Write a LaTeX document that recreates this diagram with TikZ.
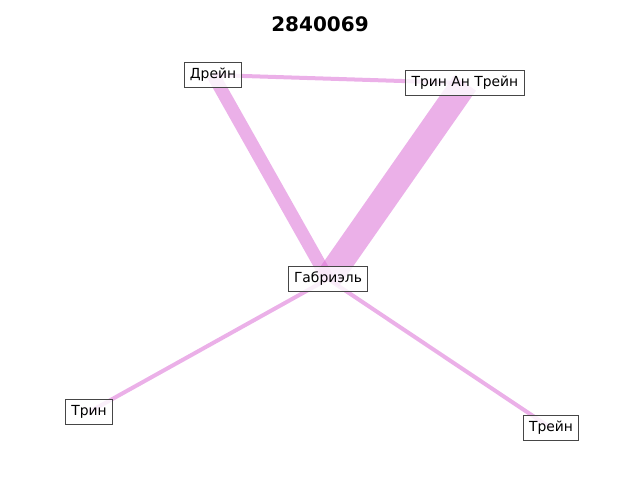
\documentclass[tikz,border=0pt]{standalone}
\usepackage{fontspec}
\setmainfont{DejaVu Sans}
\usetikzlibrary{backgrounds}
\definecolor{edgecol}{RGB}{218,112,214}
\definecolor{boxline}{RGB}{70,70,70}
\tikzset{
  lbl/.style={draw=boxline, line width=0.75pt, fill=white, fill opacity=0.8, text opacity=1,
    inner xsep=4.4pt, inner ysep=4.2pt, text height=7.8pt, text depth=2.0pt,
    font=\fontsize{10.4pt}{12pt}\selectfont},
  edg/.style={draw=edgecol, draw opacity=0.55, line cap=butt},
}
\begin{document}
\begin{tikzpicture}[x=0.75pt,y=-0.75pt]
\useasboundingbox (0,0) rectangle (640,480);
\node[font=\fontsize{15pt}{17pt}\selectfont\bfseries] (title) at (320,24) {2840069};
\node[lbl] (drein) at (213,75) {Дрейн};
\node[lbl] (trinan) at (465,83) {Трин Ан Трейн};
\node[lbl] (gab) at (328,279) {Габриэль};
\node[lbl] (trin) at (89,412) {Трин};
\node[lbl] (trein) at (551,428) {Трейн};
\begin{scope}[on background layer]
\draw[edg, line width=3pt] (drein.center) -- (trinan.center);
\draw[edg, line width=9.75pt] (drein.center) -- (gab.center);
\draw[edg, line width=20pt] (trinan.center) -- (gab.center);
\draw[edg, line width=3pt] (gab.center) -- (trin.center);
\draw[edg, line width=3pt] (gab.center) -- (trein.center);
\end{scope}
\end{tikzpicture}
\end{document}
